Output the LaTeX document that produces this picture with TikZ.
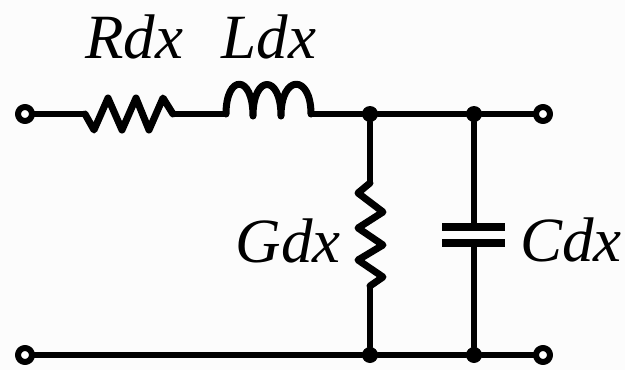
\documentclass[tikz,border=0pt]{standalone}
\usepackage{fontspec}
\setmainfont{Liberation Serif}

\begin{document}
\begin{tikzpicture}[x=1pt, y=-1pt, line width=6pt, line join=round, line cap=round,
    term/.style={circle, draw, fill=white, line width=6pt, inner sep=0pt, outer sep=0pt, minimum size=14pt},
    junction/.style={circle, fill=black, inner sep=0pt, outer sep=0pt, minimum size=16pt},
    element/.style={line width=7pt},
    plate/.style={line width=8pt, line cap=butt},
    value/.style={anchor=base, inner sep=0pt, font=\fontsize{63}{63}\selectfont\itshape}]
    \useasboundingbox[fill={rgb,255:red,252;green,252;blue,252}] (0,0) rectangle (625,370);
    \node[term] (inA) at (25,114) {};
    \node[term] (inB) at (25,355) {};
    \node[term] (outA) at (543,114) {};
    \node[term] (outB) at (543,355) {};
    \node[junction] (topG) at (370,114) {};
    \node[junction] (topC) at (474,114) {};
    \node[junction] (botG) at (370,355) {};
    \node[junction] (botC) at (474,355) {};
    \coordinate (Rin) at (85,114);
    \coordinate (Rout) at (173,114);
    \coordinate (Lin) at (226,114);
    \coordinate (Lout) at (311,114);
    \coordinate (Gin) at (370,183);
    \coordinate (Gout) at (370,286);
    \coordinate (Cin) at (474,227);
    \coordinate (Cout) at (474,243);
    \draw (inA) -- (Rin);
    \draw[element] (Rin) -- (94,130) -- (108,98) -- (122,130) -- (136,98) -- (149,130) -- (163,98) -- (Rout);
    \draw (Rout) -- (Lin);
    \draw[element] (Lin) .. controls (226,74) and (253,74) .. (253,116)
        .. controls (253,74) and (281,74) .. (281,116)
        .. controls (281,74) and (311,74) .. (Lout);
    \draw (Lout) -- (topG);
    \draw (topG) -- (topC);
    \draw (topC) -- (outA);
    \draw (topG) -- (Gin);
    \draw[element] (Gin) -- (358,193) -- (383,212) -- (358,228) -- (383,245) -- (358,260) -- (383,277) -- (Gout);
    \draw (Gout) -- (botG);
    \draw (topC) -- (Cin);
    \draw (Cout) -- (botC);
    \draw[plate] (442,227) -- (505,227);
    \draw[plate] (442,243) -- (505,243);
    \draw (inB) -- (botG);
    \draw (botG) -- (botC);
    \draw (botC) -- (outB);
    \node[value] (Rdx) at (134,58) {Rdx};
    \node[value] (Ldx) at (269,58) {Ldx};
    \node[value] (Gdx) at (288,262) {Gdx};
    \node[value] (Cdx) at (571,261) {Cdx};
\end{tikzpicture}
\end{document}
